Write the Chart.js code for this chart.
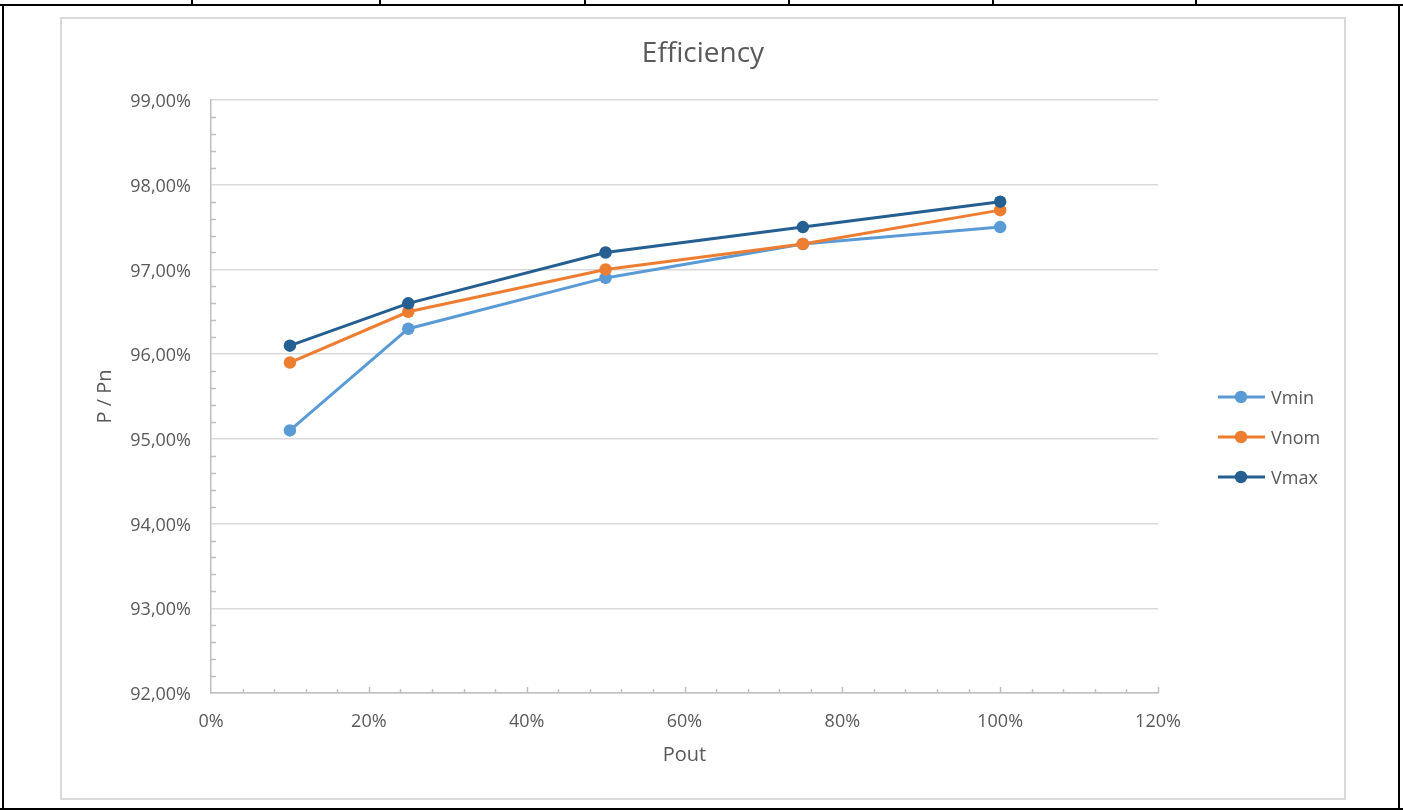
<!DOCTYPE html>
<html>
<head>
<meta charset="utf-8">
<script src="https://cdn.jsdelivr.net/npm/chart.js@4"></script>
<style>
  html, body { margin: 0; padding: 0; background: #fff; }
  #wrap { position: relative; width: 1403px; height: 810px; overflow: hidden; background: #fff; }
  .blk { position: absolute; background: #000; }
  #box { position: absolute; left: 60px; top: 17px; width: 1286px; height: 783px; border: 2px solid #d9d9d9; box-sizing: border-box; }
  canvas { position: absolute; left: 0; top: 0; }
</style>
</head>
<body>
<div id="wrap">
  <div class="blk" style="left:0;top:4px;width:1403px;height:2px"></div>
  <div class="blk" style="left:191px;top:0;width:2px;height:5px"></div>
  <div class="blk" style="left:379px;top:0;width:2px;height:5px"></div>
  <div class="blk" style="left:584px;top:0;width:2px;height:5px"></div>
  <div class="blk" style="left:788px;top:0;width:2px;height:5px"></div>
  <div class="blk" style="left:992px;top:0;width:2px;height:5px"></div>
  <div class="blk" style="left:1195px;top:0;width:2px;height:5px"></div>
  <div class="blk" style="left:2px;top:4px;width:2px;height:806px"></div>
  <div class="blk" style="left:1398px;top:4px;width:2px;height:806px"></div>
  <div class="blk" style="left:0;top:808px;width:1403px;height:2px"></div>
  <div id="box"></div>
  <canvas id="c" width="1403" height="810"></canvas>
</div>
<script>
const chartTitle = 'Efficiency';
const xTitle = 'Pout';
const yTitle = 'P / Pn';
const pout = [10, 25, 50, 75, 100];
const vmin = [95.1, 96.3, 96.9, 97.3, 97.5];
const vnom = [95.9, 96.5, 97.0, 97.3, 97.7];
const vmax = [96.1, 96.6, 97.2, 97.5, 97.8];
const seriesNames = ['Vmin', 'Vnom', 'Vmax'];
const seriesColors = ['#5B9BD5', '#ED7D31', '#255E91'];
const seriesValues = [vmin, vnom, vmax];

const FONT = "'Open Sans', 'Noto Sans', sans-serif";
const TXT = '#595959';

const datasets = seriesValues.map((vals, i) => ({
  label: seriesNames[i],
  data: pout.map((x, j) => ({ x: x, y: vals[j] })),
  borderColor: seriesColors[i],
  backgroundColor: seriesColors[i],
  pointBackgroundColor: seriesColors[i],
  pointBorderColor: seriesColors[i],
  borderWidth: 3,
  pointRadius: 6.25,
  pointBorderWidth: 0,
  tension: 0,
  order: seriesValues.length - i
}));

const decorPlugin = {
  id: 'decor',
  beforeDatasetsDraw(chart) {
    const ctx = chart.ctx;
    const xs = chart.scales.x, ys = chart.scales.y;
    const a = chart.chartArea;
    ctx.save();
    ctx.strokeStyle = '#bfbfbf';
    ctx.lineWidth = 1.5;
    ctx.beginPath();
    for (let k = 0; k < 35; k++) {
      if (k % 5 === 0) continue;
      const v = ys.min + k * 0.2;
      const py = Math.round(ys.getPixelForValue(v)) + 0.5;
      ctx.moveTo(a.left, py);
      ctx.lineTo(a.left + 5, py);
    }
    for (let k = 1; k <= 30; k++) {
      const v = k * 4;
      const px = Math.round(xs.getPixelForValue(v)) + 0.5;
      const len = (v % 20 === 0) ? 6 : 4;
      ctx.moveTo(px, a.bottom);
      ctx.lineTo(px, a.bottom - len);
    }
    ctx.stroke();
    ctx.restore();
  },
  afterDraw(chart) {
    const ctx = chart.ctx;
    ctx.save();
    ctx.fillStyle = TXT;
    ctx.font = '28px ' + FONT;
    ctx.textAlign = 'center';
    ctx.textBaseline = 'alphabetic';
    ctx.fillText(chartTitle, 703, 62);
    const ly = [397, 437, 477];
    chart.data.datasets.forEach((ds, i) => {
      const y = ly[i];
      ctx.strokeStyle = ds.borderColor;
      ctx.lineWidth = 3;
      ctx.beginPath();
      ctx.moveTo(1218, y);
      ctx.lineTo(1265, y);
      ctx.stroke();
      ctx.fillStyle = ds.borderColor;
      ctx.beginPath();
      ctx.arc(1241, y, 6.25, 0, Math.PI * 2);
      ctx.fill();
      ctx.fillStyle = TXT;
      ctx.font = '18px ' + FONT;
      ctx.textAlign = 'left';
      ctx.fillText(ds.label, 1271, y + 6.5);
    });
    ctx.restore();
  }
};

new Chart(document.getElementById('c'), {
  type: 'line',
  data: { datasets: datasets },
  options: {
    responsive: false,
    animation: false,
    devicePixelRatio: 1,
    layout: { padding: { top: 100, right: 245, bottom: 0, left: 0 } },
    plugins: {
      legend: { display: false },
      title: { display: false },
      tooltip: { enabled: false }
    },
    scales: {
      x: {
        type: 'linear',
        min: 0, max: 120,
        ticks: {
          stepSize: 20,
          color: TXT,
          font: { family: FONT, size: 18 },
          padding: 18,
          callback: v => v + '%'
        },
        grid: { drawOnChartArea: false, drawTicks: false },
        border: { display: true, color: '#bfbfbf', width: 1.5 },
        title: {
          display: true, text: xTitle, color: TXT,
          font: { family: FONT, size: 20 },
          padding: { top: 0, bottom: 43 }
        },
        afterFit: s => { s.height = 117; }
      },
      y: {
        type: 'linear',
        min: 92, max: 99,
        ticks: {
          stepSize: 1,
          color: TXT,
          font: { family: FONT, size: 18 },
          padding: 20,
          labelOffset: 2,
          callback: v => v.toFixed(2).replace('.', ',') + '%'
        },
        grid: { color: '#d9d9d9', lineWidth: 1.5, drawTicks: false },
        border: { display: true, color: '#bfbfbf', width: 1.5 },
        title: {
          display: true, text: yTitle, color: TXT,
          font: { family: FONT, size: 20 },
          padding: { top: 93, bottom: 0 }
        },
        afterFit: s => { s.width = 211; }
      }
    }
  },
  plugins: [decorPlugin]
});
</script>
</body>
</html>
